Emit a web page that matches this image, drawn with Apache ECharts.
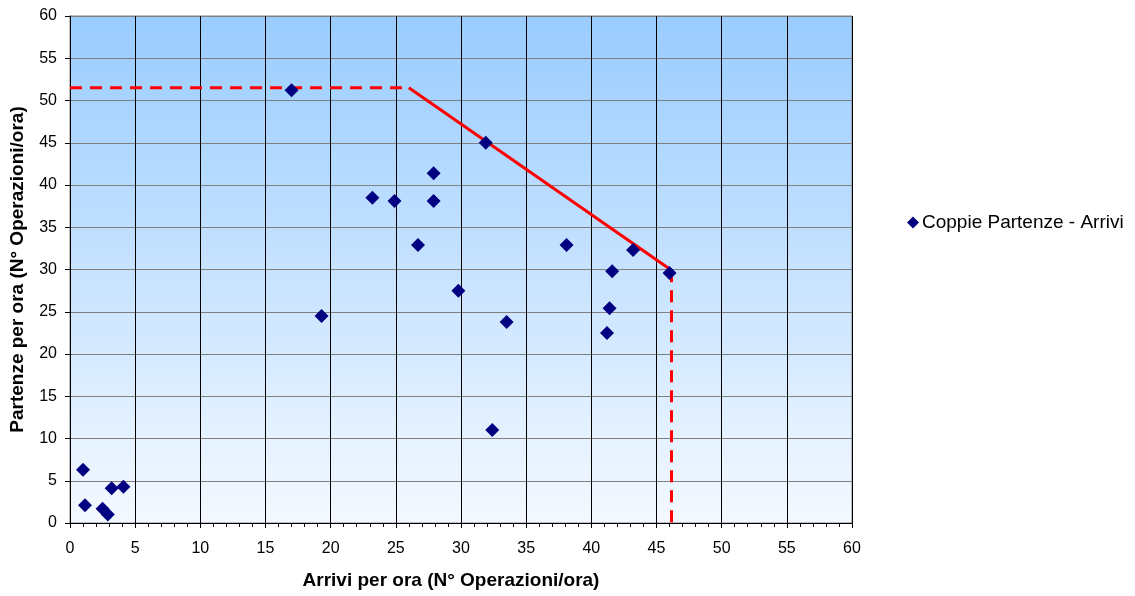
<!DOCTYPE html>
<html>
<head>
<meta charset="utf-8">
<script src="https://cdn.jsdelivr.net/npm/echarts@6/dist/echarts.min.js"></script>
<style>
  html, body { margin: 0; padding: 0; background: #fff; }
  #chart { width: 1135px; height: 596px; }
</style>
</head>
<body>
<div id="chart"></div>
<script>
// Observed hourly operations: arrivals (x) and departures (y)
const arrivi   = [1.0, 1.15, 2.5, 2.9, 3.2, 4.1, 17.0, 19.3, 23.2, 24.9, 26.7, 27.9, 27.9, 29.8, 31.9, 32.4, 33.5, 38.1, 41.2, 41.4, 41.6, 43.2, 46.0];
const partenze = [6.3, 2.1, 1.7, 1.0, 4.1, 4.3, 51.2, 24.5, 38.5, 38.1, 32.9, 41.4, 38.1, 27.5, 45.0, 11.0, 23.8, 32.9, 22.5, 25.4, 29.8, 32.3, 29.6];

// Capacity envelope: horizontal limit, sloped segment, vertical limit
const limiteOrizzontale = [[0, 51.5], [26, 51.5]];
const limiteObliquo     = [[26, 51.5], [46.15, 29.9]];
const limiteVerticale   = [[46.15, 29.9], [46.15, 0]];

const assiTicks = { min: 0, max: 60, interval: 5 };

const serieNome = 'Coppie Partenze - Arrivi';
const titoloX = 'Arrivi per ora (N° Operazioni/ora)';
const titoloY = 'Partenze per ora (N° Operazioni/ora)';

const chart = echarts.init(document.getElementById('chart'), null, { renderer: 'canvas' });
const font = 'Liberation Sans, Arial, sans-serif';

const pairs = arrivi.map((a, i) => [a, partenze[i]]);

const envelopeLine = (data, dashed) => ({
  type: 'line',
  data: data,
  symbol: 'none',
  silent: true,
  lineStyle: { color: '#ff0000', width: 3, type: dashed ? [12, 8] : 'solid' },
  z: 3
});

chart.setOption({
  animation: false,
  backgroundColor: '#ffffff',
  textStyle: { fontFamily: font },
  grid: {
    left: 70, right: 283, top: 16, bottom: 73,
    show: true,
    borderColor: '#808080',
    borderWidth: 1,
    backgroundColor: new echarts.graphic.LinearGradient(0, 0, 0, 1, [
      { offset: 0, color: '#99ccff' },
      { offset: 1, color: '#f4f9ff' }
    ])
  },
  legend: {
    data: [{ name: serieNome, icon: 'diamond' }],
    left: 902, top: 208,
    itemWidth: 12, itemHeight: 12, itemGap: 4,
    textStyle: { fontFamily: font, fontSize: 19, color: '#000', padding: [0, 0, 0, -2] }
  },
  xAxis: {
    type: 'value',
    min: assiTicks.min, max: assiTicks.max, interval: assiTicks.interval,
    name: titoloX,
    nameLocation: 'middle',
    nameGap: 48,
    nameTextStyle: { fontFamily: font, fontSize: 19, fontWeight: 'bold', color: '#000', padding: [0, 20, 0, 0] },
    axisLine: { show: true, lineStyle: { color: '#000', width: 1 } },
    axisTick: { show: true, length: 5, lineStyle: { color: '#000' } },
    minorTick: { show: true, splitNumber: 5, length: 4, lineStyle: { color: '#000' } },
    axisLabel: { fontFamily: font, fontSize: 16, color: '#000', margin: 18 },
    splitLine: { show: true, lineStyle: { color: '#000', width: 1 } }
  },
  yAxis: {
    type: 'value',
    min: assiTicks.min, max: assiTicks.max, interval: assiTicks.interval,
    name: titoloY,
    nameLocation: 'middle',
    nameGap: 43,
    nameTextStyle: { fontFamily: font, fontSize: 19, fontWeight: 'bold', color: '#000' },
    axisLine: { show: true, lineStyle: { color: '#000', width: 1 } },
    axisTick: { show: true, length: 5, lineStyle: { color: '#000' } },
    axisLabel: { fontFamily: font, fontSize: 16, color: '#000', margin: 13 },
    splitLine: { show: true, lineStyle: { color: '#808080', width: 1 } }
  },
  series: [
    envelopeLine(limiteOrizzontale, true),
    envelopeLine(limiteObliquo, false),
    envelopeLine(limiteVerticale, true),
    {
      name: serieNome,
      type: 'scatter',
      data: pairs,
      symbol: 'diamond',
      symbolSize: 14,
      itemStyle: { color: '#000080', opacity: 1 },
      z: 4
    }
  ]
});
</script>
</body>
</html>
